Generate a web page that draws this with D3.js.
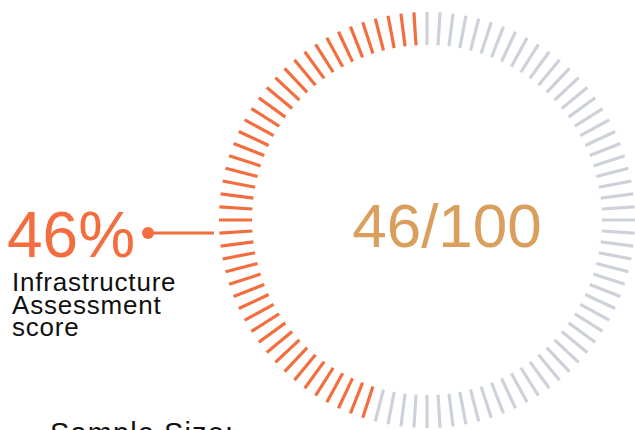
<!DOCTYPE html>
<html><head><meta charset="utf-8">
<script src="https://cdn.jsdelivr.net/npm/d3@7"></script>
<style>html,body{margin:0;padding:0;background:#fff;overflow:hidden}</style>
</head><body>
<svg id="c" width="635" height="430"></svg>
<script>
const score = 46;
const total = 100;
const centerLabel = ["46/100"];
const scoreLabel = ["46%"];
const captionLines = ["Infrastructure", "Assessment", "score"];
const footerLabel = ["Sample Size:"];

const svg = d3.select("#c");
const cx = 427, cy = 220, rOuter = 208, rInner = 175;
const orange = "#f36d3f", gray = "#cdd1da", gold = "#da9f5c";

const angle = d3.scaleLinear().domain([0, total]).range([0, 2 * Math.PI]);
const ticks = d3.range(total);
const g = svg.append("g").attr("transform", `translate(${cx},${cy})`);
g.selectAll("line.tick").data(ticks).join("line")
  .attr("class", "tick")
  .attr("x1", d => rInner * Math.sin(angle(d)))
  .attr("y1", d => -rInner * Math.cos(angle(d)))
  .attr("x2", d => rOuter * Math.sin(angle(d)))
  .attr("y2", d => -rOuter * Math.cos(angle(d)))
  .attr("stroke", d => d > total - score ? orange : gray)
  .attr("stroke-width", 3.2);

svg.append("text").attr("x", cx + 20).attr("y", 247)
  .attr("text-anchor", "middle")
  .attr("font-family", "Liberation Sans, Arial, sans-serif")
  .attr("font-size", 62).attr("fill", gold).text(centerLabel[0]);

svg.append("text").attr("x", 7).attr("y", 257)
  .attr("font-family", "Liberation Sans, Arial, sans-serif")
  .attr("font-size", 64).attr("fill", orange).text(scoreLabel[0]);

svg.append("line").attr("x1", 148).attr("y1", 233).attr("x2", 214).attr("y2", 233)
  .attr("stroke", orange).attr("stroke-width", 3);
svg.append("circle").attr("cx", 148).attr("cy", 233).attr("r", 6).attr("fill", orange);

svg.append("text")
  .attr("font-family", "Liberation Sans, Arial, sans-serif")
  .attr("font-size", 26).attr("letter-spacing", 0.8).attr("fill", "#111")
  .selectAll("tspan").data(captionLines).join("tspan")
  .attr("x", 12).attr("y", (d, i) => 291 + i * 22.5).text(d => d);

svg.append("text").attr("x", 50).attr("y", 443)
  .attr("font-family", "Liberation Sans, Arial, sans-serif")
  .attr("font-size", 29).attr("letter-spacing", 1.1).attr("fill", "#111").text(footerLabel[0]);
</script>
</body></html>
